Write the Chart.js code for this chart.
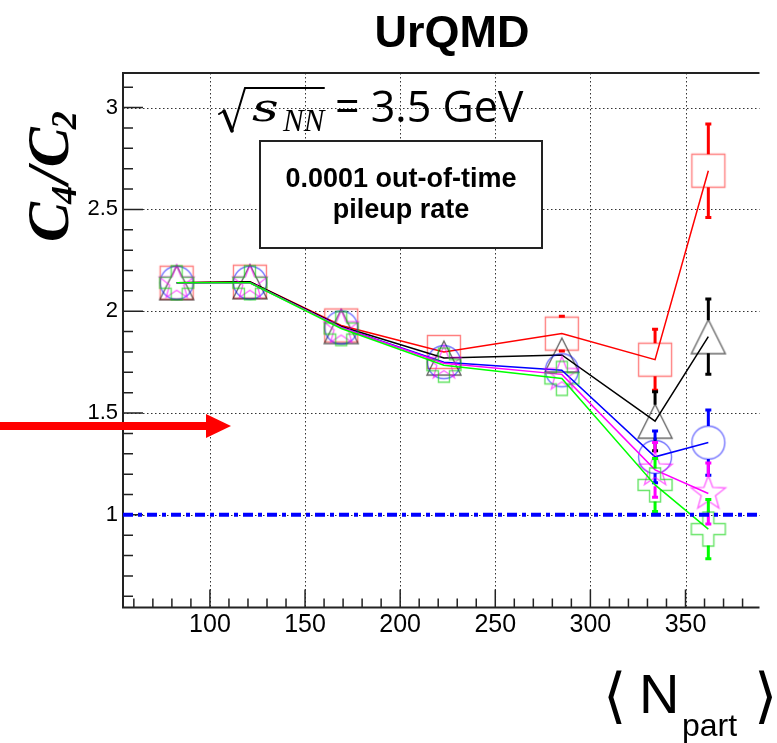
<!DOCTYPE html>
<html>
<head>
<meta charset="utf-8">
<script src="https://cdn.jsdelivr.net/npm/chart.js@4.4.1/dist/chart.umd.min.js"></script>
<style>
  html, body { margin: 0; padding: 0; background: #fff; overflow: hidden; }
  canvas { display: block; }
</style>
</head>
<body>
<canvas id="c4c2Chart" width="777" height="743"></canvas>
<script>
// <Npart> bins
const npart = [82.5, 121, 169, 223, 285, 334, 362];

// C4/C2 values per series
const redVals     = [2.14, 2.145, 1.93, 1.80, 1.89, 1.762, 2.69];
const blackVals   = [2.14, 2.145, 1.925, 1.77, 1.785, 1.46, 1.875];
const blueVals    = [2.14, 2.14, 1.92, 1.75, 1.71, 1.285, 1.355];
const magentaVals = [2.14, 2.14, 1.92, 1.745, 1.69, 1.221, 1.105];
const greenVals   = [2.14, 2.14, 1.915, 1.735, 1.67, 1.147, 0.93];

// statistical errors
const redErr     = [0.01, 0.01, 0.02, 0.02, 0.085, 0.15, 0.23];
const blackErr   = [0.01, 0.01, 0.02, 0.02, 0.08, 0.145, 0.185];
const blueErr    = [0.01, 0.01, 0.02, 0.02, 0.075, 0.127, 0.16];
const magentaErr = [0.01, 0.01, 0.02, 0.02, 0.075, 0.134, 0.15];
const greenErr   = [0.01, 0.01, 0.02, 0.02, 0.08, 0.13, 0.145];

const refLevel = 1;

const xTicks = [100, 150, 200, 250, 300, 350];
const yTicks = [1, 1.5, 2, 2.5, 3];
const xRange = [54.3, 388.9];
const yRange = [0.545, 3.17];

// open markers drawn on small canvases (ROOT style)
function makeMarker(shape, color) {
    const c = document.createElement('canvas');
    c.width = 40; c.height = 40;
    const g = c.getContext('2d');
    g.strokeStyle = color;
    g.lineWidth = 1.4;
    g.translate(20, 20);
    g.beginPath();
    if (shape === 'square') {
        g.rect(-16.5, -16.5, 33, 33);
    } else if (shape === 'triangle') {
        g.moveTo(0, -17); g.lineTo(17, 17); g.lineTo(-17, 17); g.closePath();
    } else if (shape === 'circle') {
        g.arc(0, 0, 16.5, 0, Math.PI * 2);
    } else if (shape === 'star') {
        for (let k = 0; k < 10; k++) {
            const r = k % 2 === 0 ? 18 : 7.5;
            const a = -Math.PI / 2 + k * Math.PI / 5;
            const px = r * Math.cos(a), py = r * Math.sin(a);
            if (k === 0) g.moveTo(px, py); else g.lineTo(px, py);
        }
        g.closePath();
    } else if (shape === 'cross') {
        const a = 17, b = 5.5;
        g.moveTo(-b, -a); g.lineTo(b, -a); g.lineTo(b, -b); g.lineTo(a, -b); g.lineTo(a, b);
        g.lineTo(b, b); g.lineTo(b, a); g.lineTo(-b, a); g.lineTo(-b, b); g.lineTo(-a, b);
        g.lineTo(-a, -b); g.lineTo(-b, -b); g.closePath();
    }
    g.stroke();
    return c;
}

function series(vals, errs, color, markerColor, shape, order) {
    return {
        data: npart.map((x, i) => ({ x: x, y: vals[i] })),
        errors: errs,
        borderColor: color,
        backgroundColor: color,
        borderWidth: 1.5,
        pointStyle: makeMarker(shape, markerColor),
        pointRadius: 16,
        tension: 0,
        order: order,
        clip: false
    };
}

const datasets = [
    {
        data: [{ x: xRange[0], y: refLevel }, { x: xRange[1], y: refLevel }],
        borderColor: '#0000ff',
        borderWidth: 4,
        borderDash: [10, 5, 4, 5],
        pointRadius: 0,
        order: 0
    },
    series(redVals, redErr, '#ff0000', 'rgba(255,0,0,0.5)', 'square', 5),
    series(blackVals, blackErr, '#000000', 'rgba(0,0,0,0.6)', 'triangle', 4),
    series(blueVals, blueErr, '#0000ff', 'rgba(0,0,255,0.55)', 'circle', 3),
    series(magentaVals, magentaErr, '#ff00ff', 'rgba(255,0,255,0.6)', 'star', 2),
    series(greenVals, greenErr, '#00ff00', 'rgba(0,210,0,0.6)', 'cross', 1)
];

// error bars, drawn just before each graph, leaving a gap inside the marker
const errorBars = {
    id: 'errorBars',
    beforeDatasetDraw(chart, args) {
        const ds = chart.data.datasets[args.index];
        if (!ds.errors) return;
        const ctx = chart.ctx;
        const xs = chart.scales.x, ys = chart.scales.y;
        const gap = 16.5;
        ctx.save();
        ctx.strokeStyle = ds.borderColor;
        ctx.lineWidth = 3;
        ds.data.forEach((p, i) => {
            const px = xs.getPixelForValue(p.x);
            const py = ys.getPixelForValue(p.y);
            const top = ys.getPixelForValue(p.y + ds.errors[i]);
            const bot = ys.getPixelForValue(p.y - ds.errors[i]);
            ctx.beginPath();
            if (py - gap > top) {
                ctx.moveTo(px, py - gap); ctx.lineTo(px, top);
                ctx.moveTo(px - 3, top); ctx.lineTo(px + 3, top);
            }
            if (bot > py + gap) {
                ctx.moveTo(px, py + gap); ctx.lineTo(px, bot);
                ctx.moveTo(px - 3, bot); ctx.lineTo(px + 3, bot);
            }
            ctx.stroke();
        });
        ctx.restore();
    }
};

// ROOT-like frame, dotted grid and inward ticks
const frame = {
    id: 'frame',
    beforeDatasetsDraw(chart) {
        const ctx = chart.ctx;
        const a = chart.chartArea;
        const xs = chart.scales.x, ys = chart.scales.y;
        ctx.save();
        // grid
        ctx.strokeStyle = '#333';
        ctx.lineWidth = 1;
        ctx.setLineDash([1.5, 2.5]);
        ctx.beginPath();
        xTicks.forEach(v => {
            const px = Math.round(xs.getPixelForValue(v)) + 0.5;
            ctx.moveTo(px, a.top); ctx.lineTo(px, a.bottom);
        });
        yTicks.forEach(v => {
            const py = Math.round(ys.getPixelForValue(v)) + 0.5;
            ctx.moveTo(a.left, py); ctx.lineTo(a.right, py);
        });
        ctx.stroke();
        ctx.setLineDash([]);
        // ticks
        ctx.strokeStyle = '#222';
        ctx.lineWidth = 1.5;
        ctx.beginPath();
        for (let v = 60; v < xRange[1]; v += 10) {
            const px = xs.getPixelForValue(v);
            const len = v % 50 === 0 ? 18 : 9;
            ctx.moveTo(px, a.bottom); ctx.lineTo(px, a.bottom - len);
        }
        for (let k = 6; k <= 31; k++) {
            const v = k / 10;
            const py = ys.getPixelForValue(v);
            const len = k % 5 === 0 ? 20 : 10;
            ctx.moveTo(a.left, py); ctx.lineTo(a.left + len, py);
        }
        ctx.stroke();
        // frame
        ctx.strokeStyle = '#222';
        ctx.lineWidth = 2;
        ctx.beginPath();
        ctx.moveTo(a.right, a.top); ctx.lineTo(a.left, a.top);
        ctx.lineTo(a.left, a.bottom); ctx.lineTo(a.right, a.bottom);
        ctx.stroke();
        ctx.restore();
    },
    afterDraw(chart) {
        const ctx = chart.ctx;
        ctx.save();
        ctx.fillStyle = '#000';
        ctx.textBaseline = 'alphabetic';

        // title
        ctx.font = 'bold 45px "Liberation Sans"';
        ctx.textAlign = 'center';
        ctx.fillText('UrQMD', 452, 47);

        // pileup box
        ctx.fillStyle = '#fff';
        ctx.fillRect(260, 141, 282, 107);
        ctx.strokeStyle = '#222';
        ctx.lineWidth = 2;
        ctx.strokeRect(260, 141, 282, 107);
        ctx.fillStyle = '#000';
        ctx.font = 'bold 27px "Liberation Sans"';
        ctx.fillText('0.0001 out-of-time', 401, 187);
        ctx.fillText('pileup rate', 401, 218);

        // sqrt(s_NN) = 3.5 GeV
        ctx.textAlign = 'left';
        ctx.strokeStyle = '#000';
        ctx.lineCap = 'round';
        ctx.lineWidth = 2;
        ctx.beginPath();
        ctx.moveTo(219, 114); ctx.lineTo(224, 111);
        ctx.stroke();
        ctx.lineWidth = 3.5;
        ctx.beginPath();
        ctx.moveTo(224, 111); ctx.lineTo(232, 131);
        ctx.stroke();
        ctx.lineWidth = 2;
        ctx.beginPath();
        ctx.moveTo(232, 131); ctx.lineTo(245, 88); ctx.lineTo(324, 88);
        ctx.stroke();
        ctx.save();
        ctx.translate(252, 121);
        ctx.scale(1.3, 1);
        ctx.font = 'italic 40px "DejaVu Serif"';
        ctx.fillText('s', 0, 0);
        ctx.restore();
        ctx.font = 'italic 31px "Liberation Serif"';
        ctx.fillText('NN', 283, 131);
        ctx.font = '43px "Open Sans"';
        ctx.fillText('= 3.5 GeV', 335, 122);

        // y title C4/C2
        ctx.save();
        ctx.translate(68, 242);
        ctx.rotate(-Math.PI / 2);
        let x = 0;
        const big = 'bold italic 60px "Liberation Serif"';
        const sub = 'bold italic 36px "Liberation Serif"';
        ctx.font = big; ctx.fillText('C', x, 0); x += ctx.measureText('C').width;
        ctx.font = sub; ctx.fillText('4', x - 2, 8); x += ctx.measureText('4').width;
        ctx.font = big; ctx.fillText('/', x, 0); x += ctx.measureText('/').width;
        ctx.fillText('C', x, 0); x += ctx.measureText('C').width;
        ctx.font = sub; ctx.fillText('2', x - 2, 8);
        ctx.restore();

        // x title <N_part>
        ctx.font = '60px "DejaVu Sans"';
        ctx.fillText('\u27E8', 603, 716);
        ctx.font = '56px "Liberation Sans"';
        ctx.fillText('N', 639, 713);
        ctx.font = '32px "Liberation Sans"';
        ctx.fillText('part', 682, 736);
        ctx.font = '60px "DejaVu Sans"';
        ctx.fillText('\u27E9', 754, 716);

        // red arrow
        ctx.fillStyle = '#ff0000';
        ctx.fillRect(0, 422, 208, 8);
        ctx.beginPath();
        ctx.moveTo(206, 414); ctx.lineTo(231, 426); ctx.lineTo(206, 438);
        ctx.closePath();
        ctx.fill();
        ctx.restore();
    }
};

const ctx = document.getElementById('c4c2Chart').getContext('2d');

const config = {
    type: 'line',
    data: { datasets: datasets },
    options: {
        responsive: false,
        animation: false,
        devicePixelRatio: 1,
        layout: { padding: { top: 73, left: 0, right: 0, bottom: 0 } },
        plugins: {
            legend: { display: false },
            tooltip: { enabled: false }
        },
        scales: {
            x: {
                type: 'linear',
                min: xRange[0],
                max: xRange[1],
                grid: { display: false, drawTicks: false },
                border: { display: false },
                ticks: {
                    color: '#000',
                    font: { family: 'Liberation Sans', size: 25 },
                    padding: 3,
                    maxRotation: 0,
                    autoSkip: false,
                    callback: v => String(v)
                },
                afterBuildTicks: s => { s.ticks = xTicks.map(v => ({ value: v })); },
                afterFit: s => { s.height = 135.5; }
            },
            y: {
                type: 'linear',
                min: yRange[0],
                max: yRange[1],
                grid: { display: false, drawTicks: false },
                border: { display: false },
                ticks: {
                    color: '#000',
                    font: { family: 'Liberation Sans', size: 22 },
                    padding: 5,
                    autoSkip: false,
                    callback: v => String(v)
                },
                afterBuildTicks: s => { s.ticks = yTicks.map(v => ({ value: v })); },
                afterFit: s => { s.width = 123; }
            }
        }
    },
    plugins: [frame, errorBars]
};

const c4c2Chart = new Chart(ctx, config);
</script>
</body>
</html>
